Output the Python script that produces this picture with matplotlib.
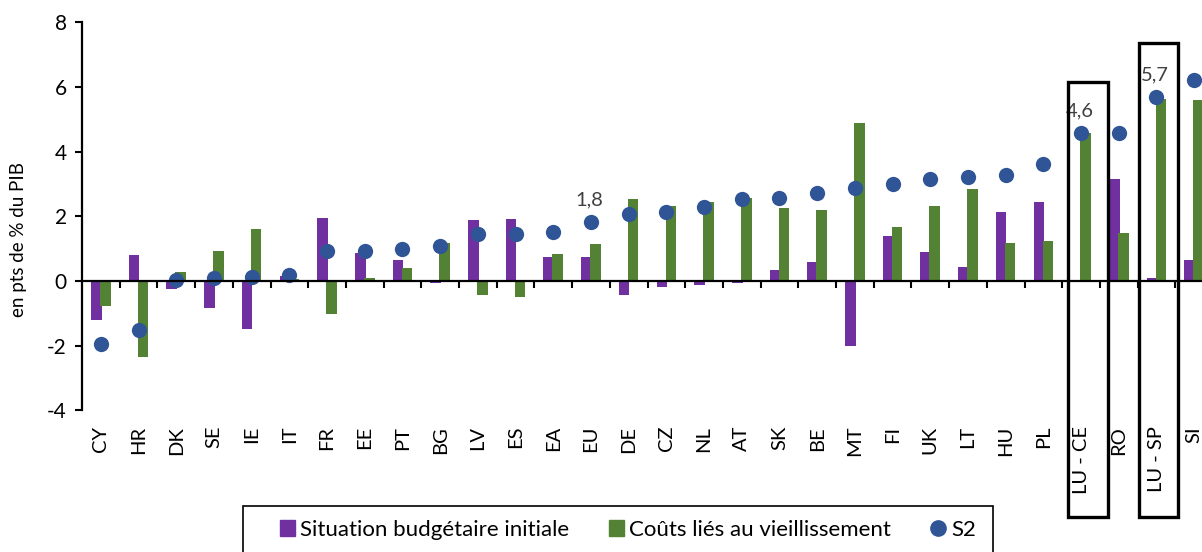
import matplotlib
matplotlib.use('Agg')  # no display
import matplotlib.pyplot as plt
from matplotlib.patches import Patch, Rectangle
from matplotlib.lines import Line2D
from matplotlib.transforms import blended_transform_factory
import numpy as np

plt.rcParams['font.family'] = ['Lato', 'DejaVu Sans']
plt.rcParams['axes.unicode_minus'] = False

# data (pts of GDP)
countries = ['CY', 'HR', 'DK', 'SE', 'IE', 'IT', 'FR', 'EE', 'PT', 'BG',
             'LV', 'ES', 'EA', 'EU', 'DE', 'CZ', 'NL', 'AT', 'SK', 'BE',
             'MT', 'FI', 'UK', 'LT', 'HU', 'PL', 'LU - CE', 'RO', 'LU - SP', 'SI']
initial_budget = [-1.22, 0.80, -0.26, -0.85, -1.49, 0.16, 1.94, 0.87, 0.65, -0.07,
                  1.88, 1.93, 0.73, 0.73, -0.43, -0.20, -0.12, -0.05, 0.34, 0.58,
                  -2.00, 1.40, 0.90, 0.42, 2.12, 2.44, 0.04, 3.15, 0.09, 0.65]
ageing_costs = [-0.76, -2.34, 0.28, 0.93, 1.60, 0.05, -1.03, 0.08, 0.41, 1.16,
                -0.43, -0.48, 0.83, 1.13, 2.52, 2.32, 2.43, 2.58, 2.27, 2.19,
                4.87, 1.66, 2.32, 2.83, 1.19, 1.23, 4.56, 1.49, 5.64, 5.61]
s2 = [-1.94, -1.53, 0.03, 0.08, 0.11, 0.18, 0.92, 0.92, 1.00, 1.08,
      1.44, 1.44, 1.50, 1.81, 2.07, 2.13, 2.29, 2.52, 2.57, 2.72,
      2.86, 3.01, 3.15, 3.20, 3.27, 3.63, 4.57, 4.59, 5.69, 6.22]
labelled = {'EU': '1,8', 'LU - CE': '4,6', 'LU - SP': '5,7'}
boxed = {'LU - CE': (-0.35, 0.72, 6.15), 'LU - SP': (-0.46, 0.57, 7.35)}

purple = '#7030A0'
green = '#548235'
blue = '#2F5597'

fig = plt.figure(figsize=(12.02, 5.52), dpi=100)
# plot area runs past the right edge, as in the reference
ax = fig.add_axes([82 / 1202, 1 - 410.4 / 552, 1131 / 1202, 388.2 / 552])

x = np.arange(len(countries))
w = 0.28
ax.bar(x - 0.12, initial_budget, w, color=purple, zorder=2)
ax.bar(x + 0.12, ageing_costs, w, color=green, zorder=2)
ax.plot(x, s2, 'o', color=blue, markersize=11, markeredgewidth=0, zorder=3)

for name, txt in labelled.items():
    i = countries.index(name)
    ax.annotate(txt, (i, s2[i]), xytext=(-1, 10), textcoords='offset points',
                ha='center', va='bottom', fontsize=14.5, color='#404040')

ax.set_xlim(-0.5, len(countries) - 0.5)
ax.set_ylim(-4, 8)
ax.set_yticks(np.arange(-4, 9, 2))
ax.set_ylabel('en pts de % du PIB', fontsize=13.5)
ax.yaxis.set_label_coords(-0.049, 0.439)

for s in ['top', 'right']:
    ax.spines[s].set_visible(False)
ax.spines['bottom'].set_position(('data', 0))
ax.spines['bottom'].set_linewidth(1.6)
ax.spines['left'].set_linewidth(1.6)
ax.spines['bottom'].set_zorder(4)

ax.set_xticks(np.arange(0.5, len(countries), 1))
ax.set_xticklabels([])
ax.tick_params(axis='x', direction='out', length=5, width=1.5)
ax.tick_params(axis='y', direction='out', length=5, width=1.5, labelsize=15, pad=6)

# category labels sit below the plot area
trans = blended_transform_factory(ax.transData, ax.transAxes)
for i, name in enumerate(countries):
    ax.text(i, -0.04, name, transform=trans, rotation=90, ha='center', va='top',
            fontsize=14.5, clip_on=False)

# black frames around the two Luxembourg scenarios
trans_fig = blended_transform_factory(ax.transData, fig.transFigure)
for name, (l, r, top) in boxed.items():
    i = countries.index(name)
    y_top = ax.transData.transform((0, top))[1] / fig.bbox.height
    y_bot = 1 - 517 / 552
    ax.add_patch(Rectangle((i + l, y_bot), r - l, y_top - y_bot, transform=trans_fig,
                           fill=False, edgecolor='black', linewidth=2.4,
                           clip_on=False, zorder=5))

handles = [Patch(color=purple, label='Situation budgétaire initiale'),
           Patch(color=green, label='Coûts liés au vieillissement'),
           Line2D([], [], marker='o', color=blue, linestyle='none',
                  markersize=11, label='S2')]
fig.legend(handles=handles, loc='center', bbox_to_anchor=(628 / 1202, 1 - 530 / 552),
           ncol=3, frameon=False, fontsize=16, handlelength=0.65, handleheight=0.75,
           handletextpad=0.25, columnspacing=1.8)
fig.patches.append(Rectangle((243 / 1202, -0.05), 750 / 1202, 0.05 + 1 - 505.7 / 552,
                             transform=fig.transFigure, fill=False,
                             edgecolor='black', linewidth=1.2))

fig.savefig('out.png', dpi=100)
plt.close()
